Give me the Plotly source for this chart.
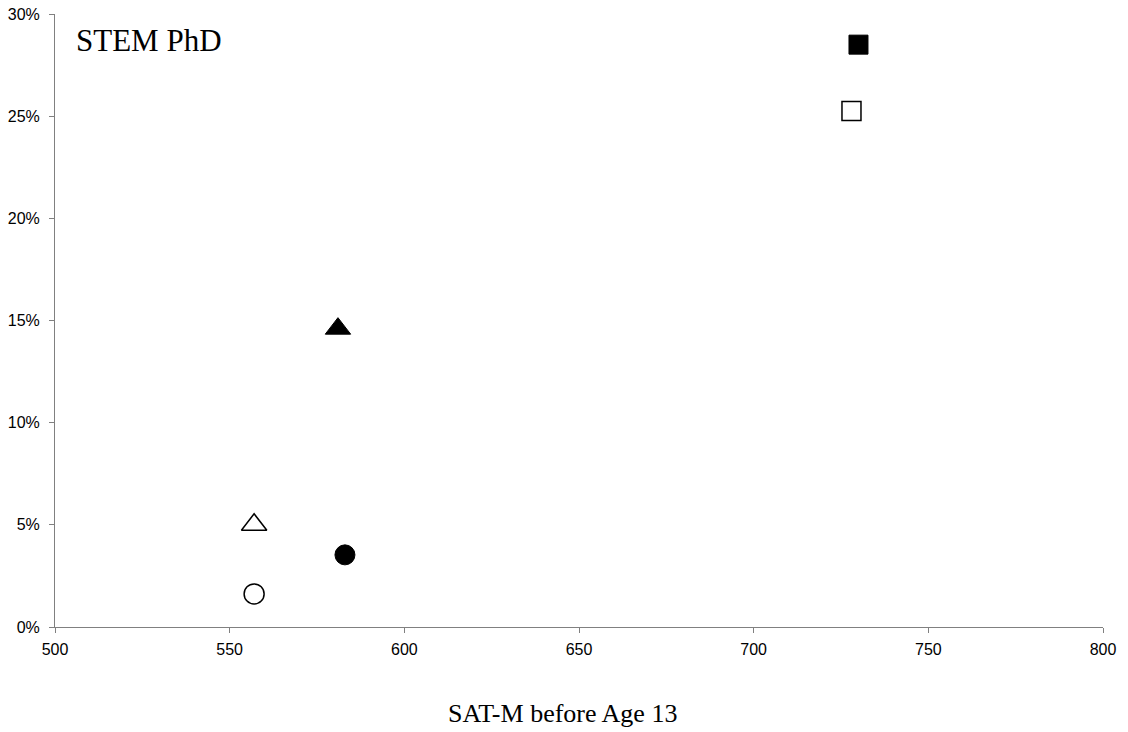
import plotly.graph_objects as go

# Data (SAT-M before age 13 vs % STEM PhD)
groups = ["filled square", "open square", "filled triangle", "open triangle", "filled circle", "open circle"]
sat_m = [730, 728, 581, 557, 583, 557]
stem_phd_pct = [28.5, 25.25, 14.6, 5.0, 3.53, 1.62]
symbols = ["square", "square-open", "triangle-up", "triangle-up-open", "circle", "circle-open"]
sizes = [19, 19, 22, 22, 20, 20]

x_ticks = [500, 550, 600, 650, 700, 750, 800]
y_ticks = [0, 5, 10, 15, 20, 25, 30]
y_tick_labels = ["0%", "5%", "10%", "15%", "20%", "25%", "30%"]

fig = go.Figure()
for g, x, y, s, sz in zip(groups, sat_m, stem_phd_pct, symbols, sizes):
    fig.add_trace(go.Scatter(
        x=[x], y=[y], mode="markers", name=g, showlegend=False,
        marker=dict(symbol=s, size=sz, color="black",
                    line=dict(color="black", width=1.5 if "open" in s else 1)),
    ))

tick_font = dict(family="Liberation Sans, Arial", size=16, color="black")

fig.update_xaxes(range=[500, 800], tickmode="array", tickvals=x_ticks,
                 showgrid=False, zeroline=False, showline=True, linecolor="#808080",
                 linewidth=1, ticks="outside", ticklen=5, tickcolor="#808080",
                 tickfont=tick_font, ticklabelstandoff=3, automargin=False)
fig.update_yaxes(range=[0, 30], tickmode="array", tickvals=y_ticks, ticktext=y_tick_labels,
                 showgrid=False, zeroline=False, showline=True, linecolor="#808080",
                 linewidth=1, ticks="outside", ticklen=5, tickcolor="#808080",
                 tickfont=tick_font, ticklabelstandoff=6, automargin=False)

fig.add_annotation(text="STEM PhD", xref="paper", yref="paper", x=0.0186, y=0.9575,
                   xanchor="left", yanchor="middle", showarrow=False,
                   font=dict(family="Liberation Serif, Times New Roman", size=31, color="black"))
fig.add_annotation(text="SAT-M before Age 13", xref="paper", yref="paper", x=0.4843, y=-0.1404,
                   xanchor="center", yanchor="middle", showarrow=False,
                   font=dict(family="Liberation Serif, Times New Roman", size=26, color="black"))

fig.update_layout(width=1128, height=732, plot_bgcolor="white", paper_bgcolor="white",
                  margin=dict(l=55, r=25, t=14, b=105, autoexpand=False))

fig.write_html("out.html", config={"displayModeBar": False},
               post_script="document.body.style.margin='0';document.body.style.overflow='hidden';")
